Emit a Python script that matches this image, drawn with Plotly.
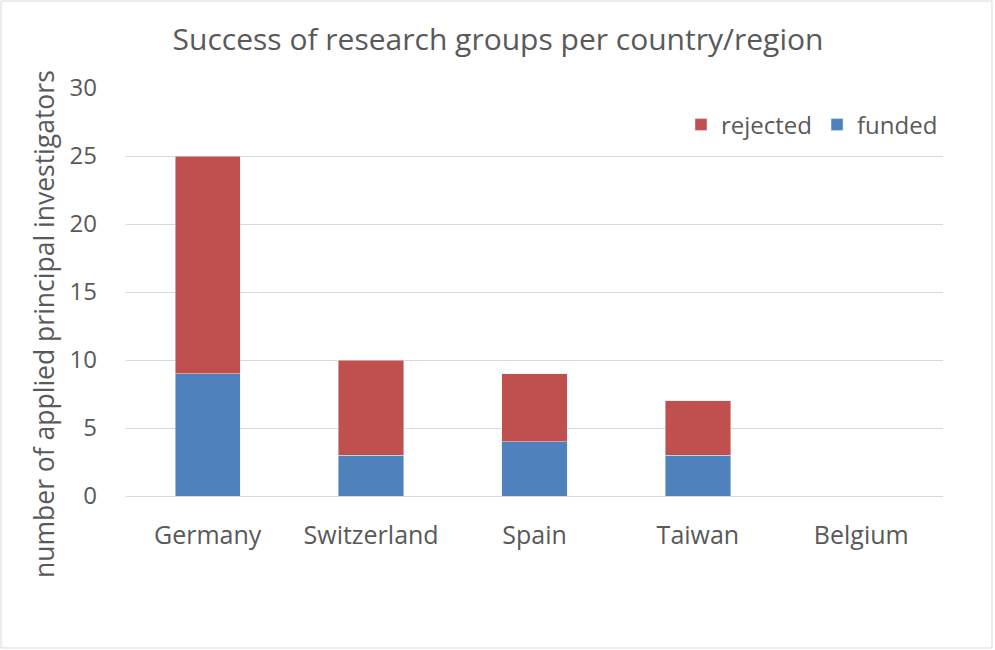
import plotly.graph_objects as go

# data
countries = ['Germany', 'Switzerland', 'Spain', 'Taiwan', 'Belgium']
funded = [9, 3, 4, 3, 0]
rejected = [16, 7, 5, 4, 0]

font_color = '#595959'
font_family = 'Open Sans'

fig = go.Figure()
fig.add_trace(go.Bar(x=countries, y=funded, name='funded', marker_color='#4F81BD', width=0.4))
fig.add_trace(go.Bar(x=countries, y=rejected, name='rejected', marker_color='#C0504D', width=0.4))

# plot area in pixels: x 126..943, y 88..496
pw, ph = 943 - 126, 496 - 88

fig.update_layout(
    barmode='stack',
    width=995, height=650,
    margin=dict(l=126, r=52, t=88, b=154),
    paper_bgcolor='white', plot_bgcolor='white',
    font=dict(family=font_family, color=font_color, size=25),
    title=dict(text='Success of research groups per country/region', x=498 / 995, xanchor='center',
               y=1 - 39 / 650, yanchor='middle', font=dict(size=30, color=font_color)),
    legend=dict(orientation='h', traceorder='reversed', x=1.0, xanchor='right',
                y=(496 - 125) / ph, yanchor='middle', font=dict(size=24),
                bgcolor='rgba(0,0,0,0)'),
    xaxis=dict(showgrid=False, showline=True, linecolor='#D9D9D9', ticks='',
               ticklabelstandoff=17, tickfont=dict(size=25)),
    yaxis=dict(range=[0, 30], dtick=5, showgrid=True, gridcolor='#D9D9D9', zeroline=False,
               showline=False, ticks='', ticklabelstandoff=28, tickfont=dict(size=24)),
    bargap=0.6,
)

fig.add_annotation(text='number of applied principal investigators', textangle=-90,
                   xref='paper', yref='paper', x=(44 - 126) / pw, y=(496 - 324) / ph,
                   xanchor='center', yanchor='middle',
                   showarrow=False, font=dict(size=26.5, color=font_color))

fig.add_shape(type='rect', xref='paper', yref='paper',
              x0=(1 - 126) / pw, x1=(992 - 126) / pw,
              y0=(496 - 648) / ph, y1=(496 - 1) / ph,
              line=dict(color='#D9D9D9', width=1), layer='below')

# drop the default page margin so the chart sits at the window's top-left corner
fig.write_html('out.html', config={'displayModeBar': False},
               post_script="document.body.style.margin='0';")
